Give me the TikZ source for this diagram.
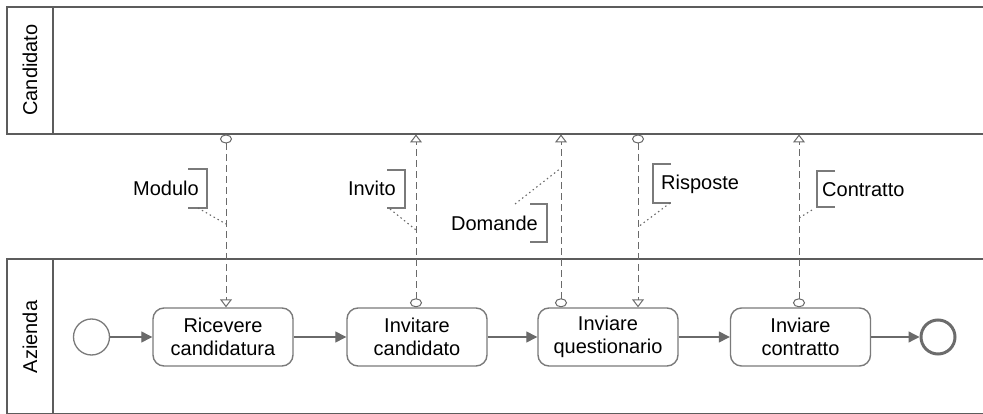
\documentclass[tikz,border=0pt]{standalone}
\usepackage{fontspec}
\setmainfont{Liberation Sans}
\usetikzlibrary{arrows.meta}
\definecolor{poolline}{HTML}{5C5C5C}
\definecolor{taskline}{HTML}{7A7A7A}
\definecolor{flowline}{HTML}{6A6A6A}
\begin{document}
\begin{tikzpicture}[x=1pt,y=-1pt,
  every node/.style={font=\fontsize{20}{23.5}\selectfont, text=black},
  pool/.style={draw=poolline, line width=1.6pt},
  lanelabel/.style={rotate=90, anchor=center},
  task/.style={draw=taskline, line width=1.4pt, rounded corners=11pt, fill=white,
    minimum width=140pt, minimum height=58pt, align=center, inner sep=0pt},
  startev/.style={circle, draw=taskline, line width=1.3pt, minimum size=36pt, inner sep=0pt},
  endev/.style={circle, draw=poolline!90, line width=3pt, minimum size=34pt, inner sep=0pt},
  seqflow/.style={draw=flowline, line width=1.3pt, -{Triangle[length=11pt,width=11pt]}},
  msgflow/.style={draw=flowline, line width=1pt, dash pattern=on 7pt off 4pt,
    {Circle[open,length=9pt,width=12pt]}-{Triangle[open,length=8pt,width=12pt]}},
  bracketline/.style={draw=taskline, line width=1.6pt},
  assoc/.style={draw=flowline, line width=1.1pt, dash pattern=on 1.5pt off 3pt},
]
\useasboundingbox (0,0) rectangle (983,414);

% pools
\draw[pool] (1000,7) -- (7,7) -- (7,134) -- (1000,134);
\draw[pool] (53,7) -- (53,134);
\node[lanelabel] (lblC) at (30,70) {Candidato};
\draw[pool] (1000,259) -- (7,259) -- (7,414) -- (1000,414);
\draw[pool] (53,259) -- (53,414);
\node[lanelabel] (lblA) at (30,337) {Azienda};

% process in Azienda
\node[startev] (s) at (91.5,337) {};
\node[task] (t1) at (223,337) {Ricevere\\candidatura};
\node[task] (t2) at (417,337) {Invitare\\candidato};
\node[task] (t3) at (608,337) {Inviare\\questionario};
\node[task] (t4) at (800.5,337) {Inviare\\contratto};
\node[endev] (e) at (938,337) {};

\draw[seqflow] (s) -- (t1);
\draw[seqflow] (t1) -- (t2);
\draw[seqflow] (t2) -- (t3);
\draw[seqflow] (t3) -- (t4);
\draw[seqflow] (t4) -- (e);

% message flow ends on the Candidato pool
\coordinate (m1) at (226,134.5);
\coordinate (m2) at (416,134.5);
\coordinate (m3) at (561,134.5);
\coordinate (m4) at (638,134.5);
\coordinate (m5) at (799,134.5);

\draw[msgflow] (m1) -- (m1 |- t1.north);
\draw[msgflow] (m2 |- t2.north) -- (m2);
\draw[msgflow] (m3 |- t3.north) -- (m3);
\draw[msgflow] (m4) -- (m4 |- t3.north);
\draw[msgflow] (m5 |- t4.north) -- (m5);

% text annotations
\node[anchor=east, inner sep=0pt] (a1) at (199,188) {Modulo};
\draw[bracketline] (188,169) -- (207,169) -- (207,208) -- (188,208);
\coordinate (a1s) at (198,208);
\coordinate (a1e) at (226,224);
\draw[assoc] (a1s) -- (a1e);

\node[anchor=east, inner sep=0pt] (a2) at (396,188) {Invito};
\draw[bracketline] (387,170) -- (405,170) -- (405,208) -- (387,208);
\coordinate (a2s) at (390,209);
\coordinate (a2e) at (416,230);
\draw[assoc] (a2s) -- (a2e);

\node[anchor=east, inner sep=0pt] (a3) at (538,223) {Domande};
\draw[bracketline] (530,204) -- (547,204) -- (547,242) -- (530,242);
\coordinate (a3s) at (515,204);
\coordinate (a3e) at (561,168);
\draw[assoc] (a3s) -- (a3e);

\node[anchor=west, inner sep=0pt] (a4) at (661,184) {Risposte};
\draw[bracketline] (671,164) -- (653,164) -- (653,203) -- (671,203);
\coordinate (a4s) at (670,203);
\coordinate (a4e) at (638,227);
\draw[assoc] (a4s) -- (a4e);

\node[anchor=west, inner sep=0pt] (a5) at (822,190) {Contratto};
\draw[bracketline] (835,171) -- (817,171) -- (817,207) -- (835,207);
\coordinate (a5s) at (812,210);
\coordinate (a5e) at (799,218);
\draw[assoc] (a5s) -- (a5e);
\end{tikzpicture}
\end{document}
